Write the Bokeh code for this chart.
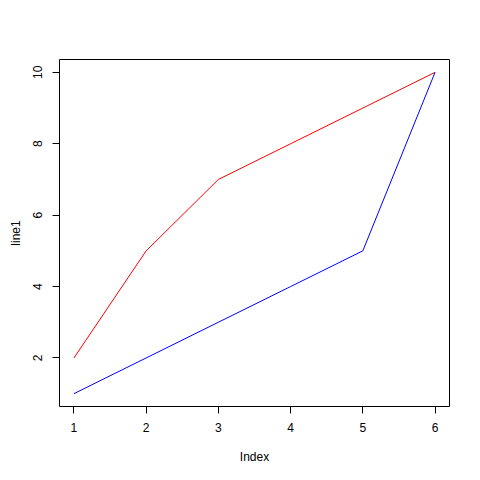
from bokeh.plotting import figure
from bokeh.models import FixedTicker, Range1d
from bokeh.embed import file_html
from bokeh.resources import INLINE

index = [1, 2, 3, 4, 5, 6]
line1 = [2, 5, 7, 8, 9, 10]
line2 = [1, 2, 3, 4, 5, 10]
x_ticks = [1, 2, 3, 4, 5, 6]
y_ticks = [2, 4, 6, 8, 10]

p = figure(width=464, height=464, frame_width=390, frame_height=347,
           output_backend="svg", toolbar_location=None,
           x_range=Range1d(0.8, 6.2), y_range=Range1d(0.64, 10.36),
           min_border_left=59, min_border_top=59, min_border_right=15, min_border_bottom=58)
p.background_fill_color = "white"
p.border_fill_color = "white"
p.outline_line_color = "black"
p.outline_line_width = 1
p.xgrid.visible = False
p.ygrid.visible = False

p.line(index, line1, color="red", line_width=1)
p.line(index, line2, color="blue", line_width=1)

font = "Liberation Sans"
for ax in (p.xaxis[0], p.yaxis[0]):
    ax.axis_line_color = None
    ax.major_tick_in = 0
    ax.major_tick_out = 7
    ax.major_tick_line_color = "black"
    ax.minor_tick_line_color = None
    ax.major_label_text_font = font
    ax.major_label_text_font_size = "12px"
    ax.major_label_text_color = "black"
    ax.axis_label_text_font = font
    ax.axis_label_text_font_size = "12px"
    ax.axis_label_text_font_style = "normal"
    ax.axis_label_text_color = "black"

p.xaxis[0].ticker = FixedTicker(ticks=x_ticks)
p.yaxis[0].ticker = FixedTicker(ticks=y_ticks)
p.xaxis[0].axis_label = "Index"
p.yaxis[0].axis_label = "line1"
p.yaxis[0].major_label_orientation = "parallel"
p.xaxis[0].major_label_standoff = 9
p.yaxis[0].major_label_standoff = 10
p.xaxis[0].axis_label_standoff = 15
p.yaxis[0].axis_label_standoff = 8

open("out.html", "w").write(file_html(p, INLINE))
